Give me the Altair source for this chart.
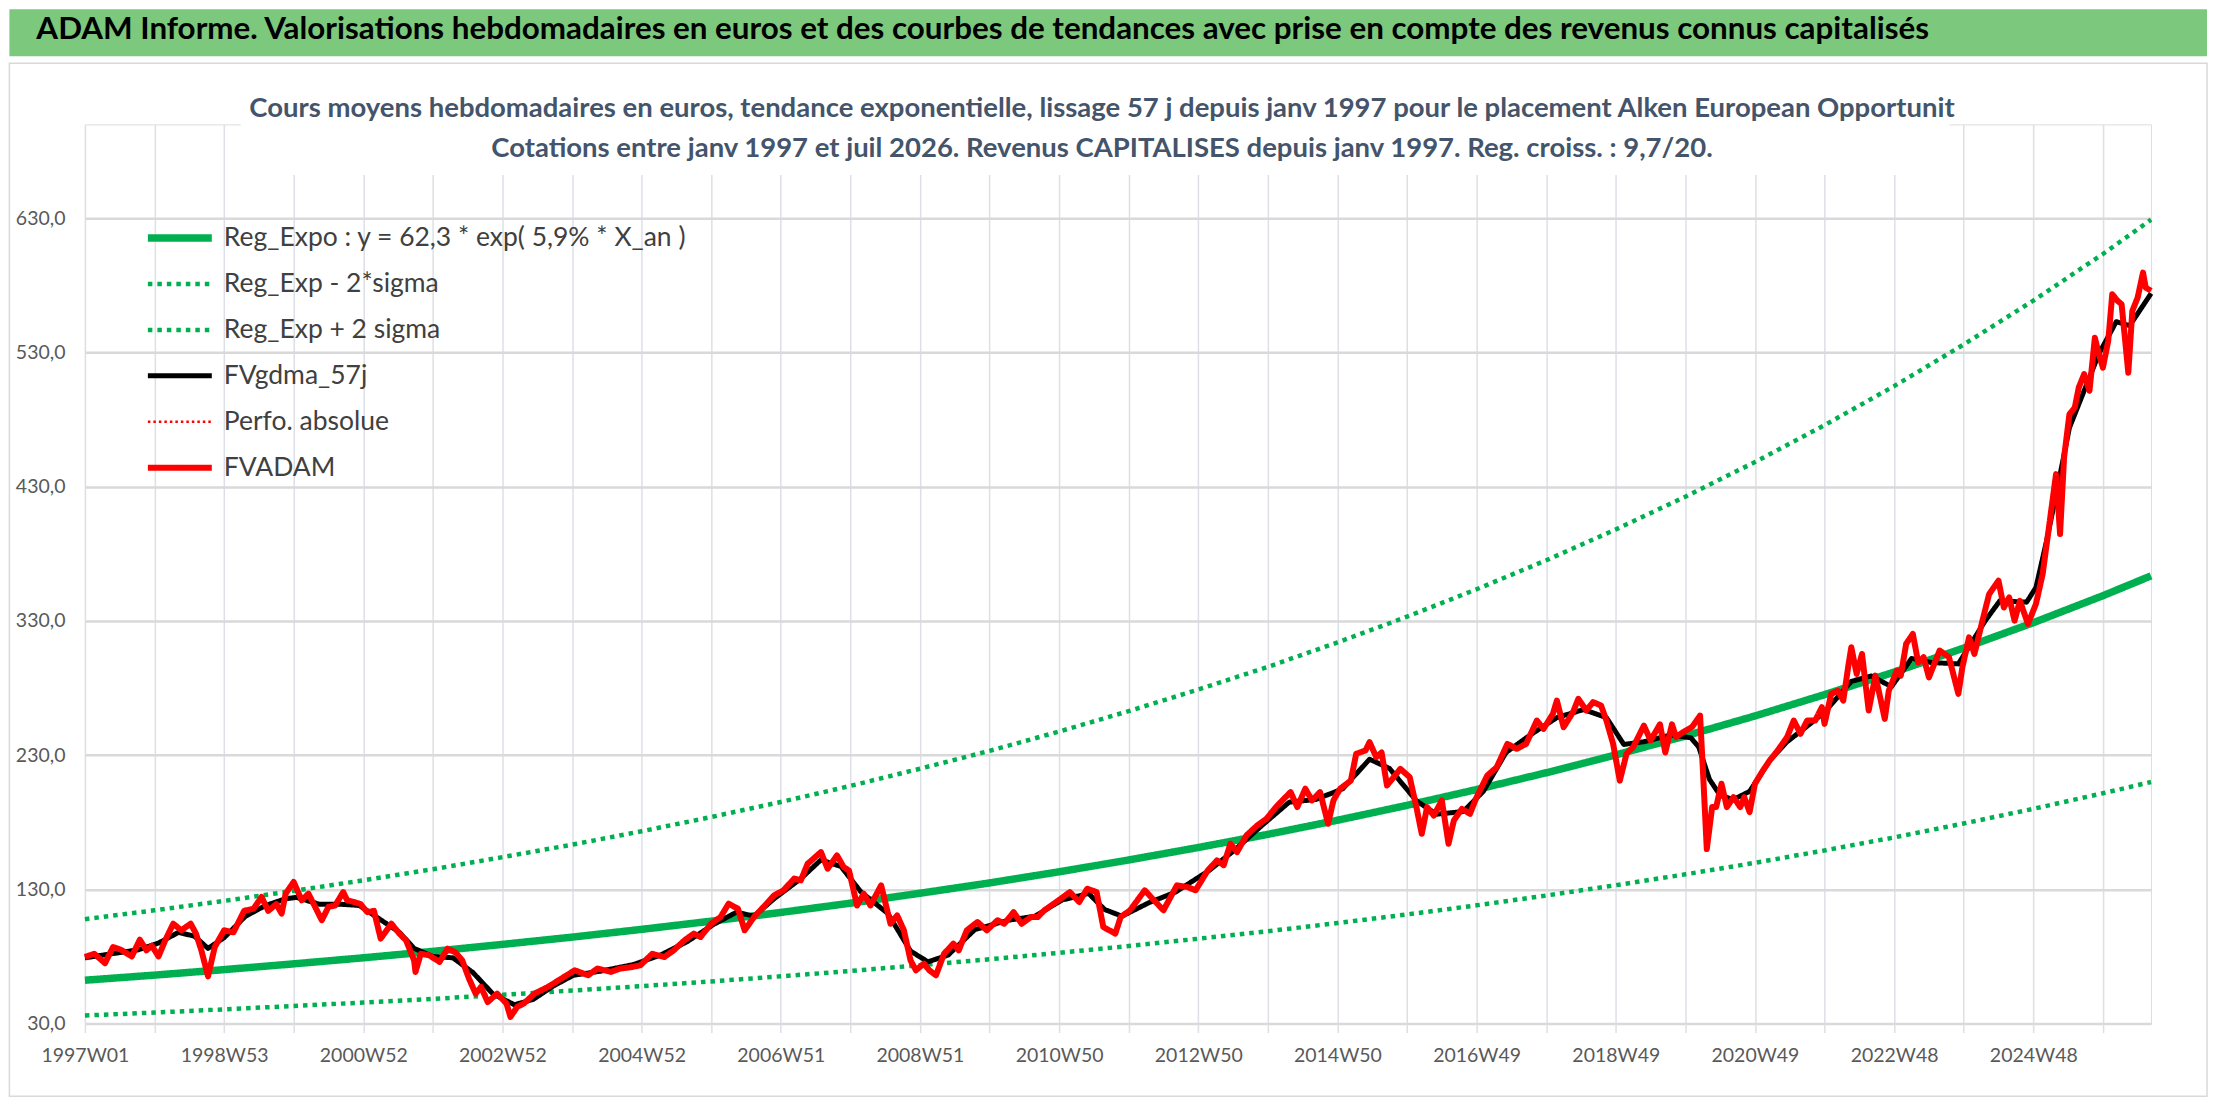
import json
import altair as alt
import pandas as pd

# --- texte ---
banner_text = "ADAM Informe. Valorisations hebdomadaires en euros et des courbes de tendances avec prise en compte des revenus connus capitalisés"
title_lines = [
    "Cours moyens hebdomadaires en euros, tendance exponentielle, lissage 57 j depuis janv 1997 pour le placement Alken European Opportunit",
    "Cotations entre janv 1997 et juil 2026. Revenus CAPITALISES depuis janv 1997. Reg. croiss. : 9,7/20.",
]
series = [
    "Reg_Expo : y = 62,3 * exp( 5,9% *  X_an )",
    "Reg_Exp - 2*sigma",
    "Reg_Exp + 2 sigma",
    "FVgdma_57j",
    "Perfo. absolue",
    "FVADAM",
]
x_labels = ["1997W01", "1998W53", "2000W52", "2002W52", "2004W52", "2006W51", "2008W51",
            "2010W50", "2012W50", "2014W50", "2016W49", "2018W49", "2020W49", "2022W48", "2024W48"]

# --- courbes de tendance (semaine, valeur) ---
trend_week = [0, 52, 104, 156, 208, 260, 312, 364, 416, 468, 520, 572, 624, 676, 728, 780,
              832, 884, 936, 988, 1040, 1092, 1144, 1196, 1248, 1300, 1352, 1404, 1456, 1508, 1544]
reg_expo = [62.3, 66.1, 70.2, 74.5, 79.0, 83.8, 89.0, 94.4, 100.2, 106.3, 112.8, 119.7, 127.1, 134.8,
            143.1, 151.9, 161.2, 171.0, 181.5, 192.6, 204.4, 216.9, 230.2, 244.3, 259.2, 275.1,
            291.9, 309.8, 328.7, 348.8, 363.6]
reg_low = [36.0, 38.2, 40.6, 43.1, 45.7, 48.4, 51.4, 54.6, 57.9, 61.4, 65.2, 69.2, 73.5, 77.9, 82.7,
           87.8, 93.2, 98.8, 104.9, 111.3, 118.1, 125.4, 133.1, 141.2, 149.8, 159.0, 168.7, 179.1,
           190.0, 201.6, 210.0]
reg_high = [107.8, 114.4, 121.4, 128.9, 136.7, 145.0, 154.0, 163.3, 173.3, 183.9, 195.1, 207.1,
            219.9, 233.2, 247.6, 262.8, 278.9, 295.8, 314.0, 333.2, 353.6, 375.2, 398.2, 422.6,
            448.4, 475.9, 505.0, 536.0, 568.7, 603.4, 629.0]

# --- FVgdma_57j (lissage) ---
gdma_week = [0, 20, 40, 55, 70, 82, 92, 104, 120, 135, 150, 158, 175, 190, 205, 220, 235, 246, 260,
             275, 290, 305, 321, 335, 350, 365, 385, 410, 430, 450, 470, 487, 500, 515, 535, 550,
             565, 580, 600, 617, 630, 645, 665, 690, 710, 730, 750, 762, 775, 795, 815, 840, 860,
             880, 900, 920, 940, 960, 975, 995, 1010, 1030, 1045, 1062, 1080, 1100, 1120, 1137,
             1150, 1165, 1185, 1200, 1206, 1214, 1222, 1232, 1244, 1259, 1272, 1285, 1300, 1320,
             1335, 1350, 1365, 1380, 1400, 1420, 1431, 1451, 1458, 1466, 1473, 1483, 1495, 1505,
             1518, 1528, 1544]
gdma_value = [79, 82, 85, 90, 98, 95, 86, 94, 110, 118, 123, 124, 119, 119, 118, 108, 98, 86, 80,
              79, 68, 52, 44, 48, 58, 66, 69, 74, 81, 91, 104, 113, 110, 123, 138, 152, 147, 128,
              112, 84, 76, 81, 100, 107, 110, 122, 127, 115, 110, 120, 128, 144, 160, 178, 195,
              197, 205, 227, 220, 196, 186, 188, 203, 232, 245, 258, 264, 258, 238, 240, 245, 243,
              236, 212, 200, 197, 203, 226, 240, 250, 262, 285, 289, 281, 302, 299, 298, 330, 345,
              344, 355, 390, 424, 474, 504, 529, 553, 550, 574]

# --- FVADAM (cours hebdo) ---
fv_week = [0, 7, 15, 21, 27, 35, 41, 46, 50, 55, 60, 66, 72, 79, 83, 87, 92, 97, 104, 111, 119, 126,
           132, 137, 143, 147, 150, 156, 162, 167, 172, 177, 182, 187, 193, 196, 201, 206, 211, 216,
           221, 229, 235, 240, 246, 247, 251, 257, 265, 271, 277, 282, 287, 292, 296, 301, 308, 315,
           318, 323, 328, 336, 346, 356, 366, 376, 383, 393, 400, 408, 415, 424, 433, 440, 448, 455,
           460, 468, 475, 481, 488, 493, 500, 507, 515, 522, 530, 535, 540, 550, 555, 562, 567, 571,
           577, 582, 587, 595, 602, 607, 612, 617, 621, 627, 631, 636, 642, 649, 653, 659, 667, 674,
           682, 687, 694, 700, 707, 712, 717, 724, 731, 736, 743, 749, 756, 761, 770, 774, 781, 792,
           799, 806, 816, 824, 830, 839, 846, 851, 856, 861, 868, 876, 883, 890, 896, 901, 906, 912,
           917, 923, 929, 933, 938, 946, 950, 957, 960, 965, 969, 973, 978, 983, 990, 995, 999, 1003,
           1008, 1014, 1019, 1023, 1029, 1035, 1040, 1048, 1055, 1063, 1070, 1077, 1085, 1090, 1097,
           1100, 1105, 1112, 1116, 1122, 1127, 1133, 1137, 1142, 1147, 1152, 1157, 1161, 1165, 1170,
           1177, 1181, 1186, 1189, 1194, 1201, 1207, 1209, 1212, 1216, 1219, 1223, 1227, 1232, 1237,
           1240, 1244, 1248, 1254, 1259, 1265, 1272, 1277, 1282, 1287, 1293, 1298, 1300, 1305, 1310,
           1314, 1318, 1320, 1324, 1328, 1333, 1338, 1341, 1345, 1348, 1354, 1357, 1361, 1366, 1370,
           1374, 1378, 1386, 1393, 1400, 1403, 1408, 1412, 1418, 1423, 1430, 1434, 1438, 1442, 1446,
           1452, 1458, 1463, 1468, 1473, 1476, 1479, 1483, 1487, 1490, 1494, 1498, 1502, 1505, 1508,
           1512, 1515, 1519, 1522, 1527, 1530, 1534, 1538, 1540, 1544]
fv_value = [79.6, 82, 75, 87, 85, 80, 92.5, 84.6, 88, 80, 92, 104.4, 99.5, 104.4, 97, 84.6, 65.2, 87,
            99.5, 98, 114, 115.6, 124.3, 114, 119, 112, 126.8, 135.5, 121.8, 126.8, 117, 107, 117,
            118, 128, 121.8, 120.6, 119, 113, 114, 93.3, 104.4, 97, 92, 77, 68.5, 82, 81, 76, 85.8,
            83, 77, 63.5, 52.3, 57.3, 46, 52.3, 45, 35, 42.4, 45, 52.3, 57.3, 63.5, 69.7, 66, 71,
            68.5, 71, 72, 73.4, 82, 79.6, 84.6, 92, 97, 94.5, 104.4, 109.4, 119.3, 115.6, 99.5,
            109.4, 116.8, 125.5, 129.3, 138, 136.7, 149, 157.8, 145.4, 155.3, 146.6, 144, 118,
            126.8, 118, 133, 104.4, 110.6, 99.5, 77, 69.7, 74.7, 69.7, 66, 82, 89.6, 84.6, 99.5,
            105.7, 99.5, 107, 104.4, 113, 104.4, 109.4, 109.4, 114.4, 119.3, 124.3, 128, 120.6,
            130.5, 128, 102, 97, 109.4, 114.4, 129.3, 121.8, 114.4, 133, 131.7, 129.3, 144, 151.6,
            148, 164, 157.8, 170.2, 177.6, 182.6, 191.3, 197.5, 202.5, 191.3, 205, 196.3, 202.5,
            178.9, 196.3, 205, 211, 231, 233.5, 239.7, 228.5, 232, 207.4, 213.6, 219.8, 213.6,
            191.3, 171.4, 191.3, 185, 196.3, 164, 181.4, 190, 186.3, 198.7, 214.9, 221, 238.4,
            234.7, 238.4, 255.8, 249.6, 260.8, 270.7, 250.8, 262, 272, 263.3, 269.5, 267, 255.8,
            238.4, 211, 231, 236, 244, 252, 241, 253, 232, 253, 243.4, 247, 251, 259.5, 221, 160,
            191.3, 191.3, 208.7, 191.3, 198.7, 191.3, 198.7, 187.6, 208.7, 218.6, 226, 233.5,
            243.4, 255.8, 245.9, 255.8, 255.8, 265.7, 253.3, 275.7, 278, 270.7, 298, 310.4, 290.5,
            305.4, 263.3, 289.3, 275.7, 257, 278, 293, 289.3, 313, 320.3, 299, 303, 288, 308, 303,
            275.7, 295.5, 317.8, 305.4, 330.2, 350, 360, 340, 347.6, 330.2, 345, 327.8, 342.7, 365,
            402, 439.4, 394.8, 451.8, 484, 489, 504, 513.9, 501.5, 541, 528.8, 518.8, 538.7, 573.4,
            568.5, 566, 515, 561, 571, 589.6, 578.4, 576]

# --- table longue ---
frames = [
    pd.DataFrame({"week": trend_week, "value": reg_expo, "serie": series[0]}),
    pd.DataFrame({"week": trend_week, "value": reg_low, "serie": series[1]}),
    pd.DataFrame({"week": trend_week, "value": reg_high, "serie": series[2]}),
    pd.DataFrame({"week": gdma_week, "value": gdma_value, "serie": series[3]}),
    pd.DataFrame({"week": fv_week, "value": fv_value, "serie": series[5]}),
]
df = pd.concat(frames, ignore_index=True)

FONT = "Lato"
GRID = "#DCE0E6"

legend = alt.Legend(
    title=None, orient="none", legendX=59, legendY=93.7, symbolType="stroke", symbolSize=4096,
    clipHeight=40, rowPadding=6, labelOffset=8, labelFont=FONT, labelFontSize=26.5,
    labelColor="#404040", labelLimit=800,
)
color = alt.Color("serie:N", legend=legend, scale=alt.Scale(
    domain=series, range=["#00B050", "#00B050", "#00B050", "#000000", "#FF0000", "#FF0000"]))
dash = alt.StrokeDash("serie:N", legend=legend, scale=alt.Scale(
    domain=series, range=[[1, 0], [4.5, 5], [4.5, 5], [1, 0], [2.5, 3], [1, 0]]))
width = alt.StrokeWidth("serie:N", legend=legend, scale=alt.Scale(
    type="ordinal", domain=series, range=[7.5, 4.5, 4.5, 5, 2.5, 6]))

x_expr = "datum.value % 104 == 0 ? " + json.dumps(x_labels) + "[datum.value / 104] : ''"
x_axis = alt.Axis(
    values=list(range(0, 1509, 52)), labelExpr=x_expr, title=None, grid=True, gridColor=GRID,
    gridWidth=1.5, tickColor=GRID, tickSize=9, tickWidth=1.5, domain=False, labelAngle=0,
    labelFont=FONT, labelFontSize=19.5, labelColor="#595959", labelPadding=14,
    labelFlush=False, labelOverlap=False,
)
y_axis = alt.Axis(
    values=[30, 130, 230, 330, 430, 530, 630], title=None, grid=True, gridColor="#D9D9D9",
    gridWidth=2.5, ticks=False, tickSize=0, domain=False, labelFont=FONT, labelFontSize=19.5,
    labelColor="#595959", labelPadding=20,
    labelExpr="replace(format(datum.value, '.1f'), '.', ',')",
)

base = alt.Chart(df).mark_line(strokeJoin="round").encode(
    x=alt.X("week:Q", axis=x_axis, scale=alt.Scale(domain=[0, 1544], nice=False, zero=False)),
    y=alt.Y("value:Q", axis=y_axis, scale=alt.Scale(domain=[30, 700], nice=False, zero=False)),
    color=color, strokeDash=dash, strokeWidth=width, detail="serie:N",
)
trend = base.transform_filter(alt.FieldOneOfPredicate(field="serie", oneOf=series[:3]))
smooth = base.transform_filter(alt.FieldEqualPredicate(field="serie", equal=series[3]))
price = base.transform_filter(alt.FieldEqualPredicate(field="serie", equal=series[5]))

# bandeau vert, cadre, fond du titre et titres (décor)
deco = alt.Data(values=[{"d": 0}])
frame = alt.Chart(deco).mark_rect(fillOpacity=0, stroke="#D9D9D9", strokeWidth=1.5).encode(
    x=alt.value(-75.6), x2=alt.value(2124), y=alt.value(-61.3), y2=alt.value(972.7))
band = alt.Chart(deco).mark_rect(fill="#7CC87C").encode(
    x=alt.value(-75.6), x2=alt.value(2124), y=alt.value(-115.3), y2=alt.value(-68.3))
title_box = alt.Chart(deco).mark_rect(fill="white").encode(
    x=alt.value(156), x2=alt.value(1866), y=alt.value(-2), y2=alt.value(50.7))
band_text = alt.Chart(deco).mark_text(
    text=banner_text, align="left", baseline="middle", font=FONT, fontWeight="bold",
    fontSize=31.4, color="black").encode(x=alt.value(-48.6), y=alt.value(-94.3))
title1 = alt.Chart(deco).mark_text(
    text=title_lines[0], align="center", baseline="middle", font=FONT, fontWeight="bold",
    fontSize=27.5, color="#44546A").encode(x=alt.value(1018), y=alt.value(-15.8))
title2 = alt.Chart(deco).mark_text(
    text=title_lines[1], align="center", baseline="middle", font=FONT, fontWeight="bold",
    fontSize=27.5, color="#44546A").encode(x=alt.value(1018), y=alt.value(24.7))

chart = alt.layer(frame, band, title_box, band_text, title1, title2, trend, smooth, price).properties(
    width=2068, height=900, padding=0,
).configure_view(stroke=None).configure(background="white")

chart.save("out.html", embed_options={"renderer": "svg", "actions": False})
